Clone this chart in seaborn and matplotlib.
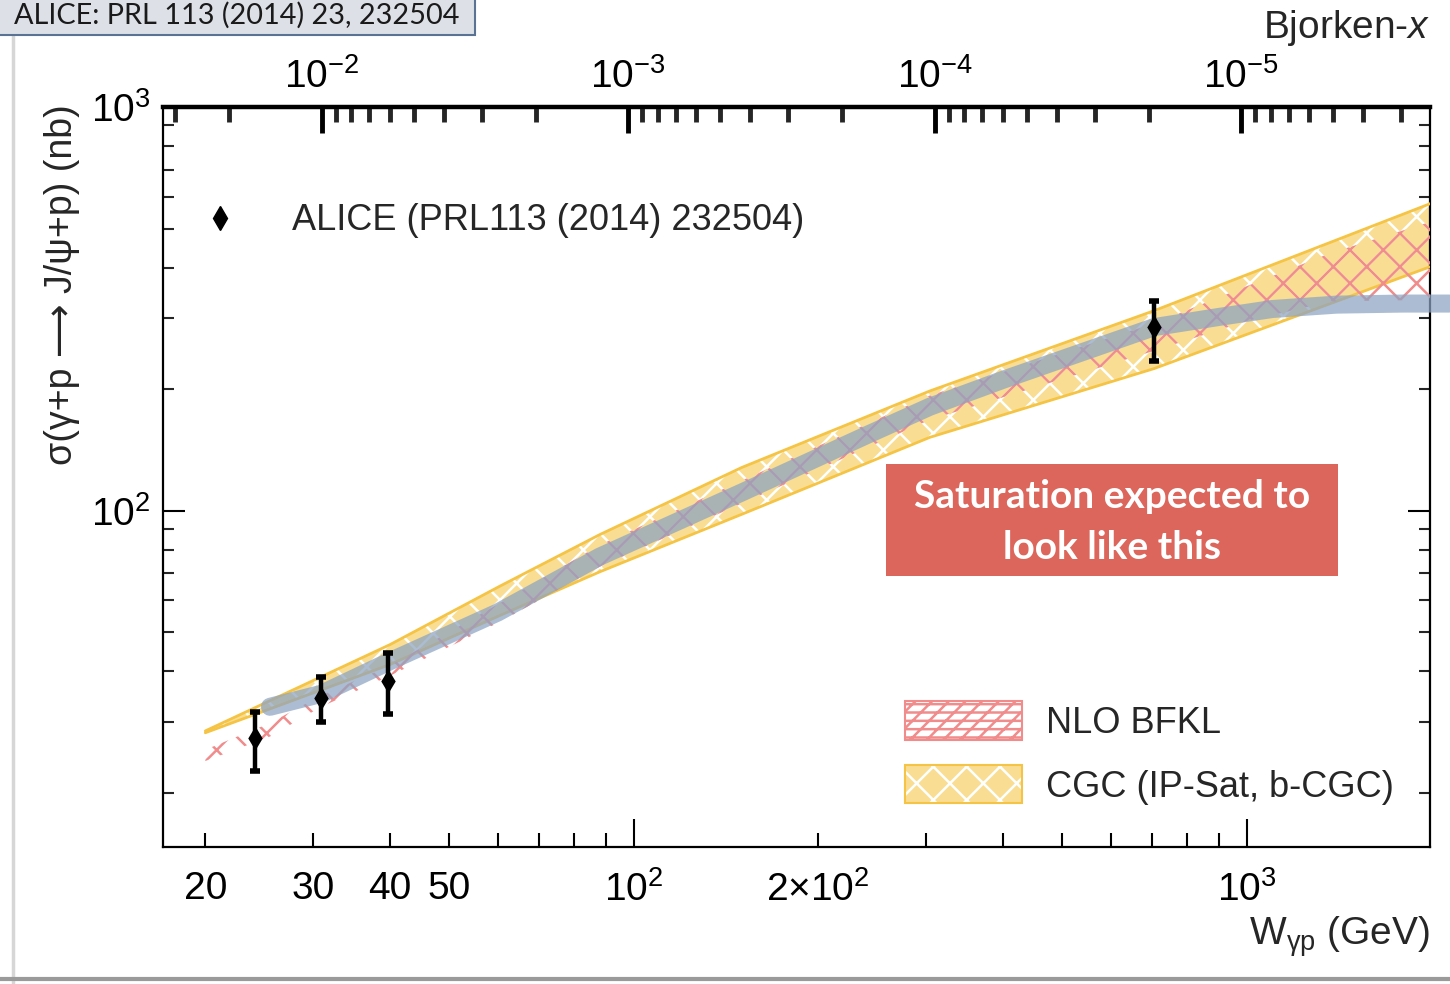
import matplotlib
matplotlib.use('Agg')
import matplotlib.pyplot as plt
import seaborn as sns
from matplotlib.patches import Patch, Rectangle
from matplotlib.lines import Line2D
from matplotlib.ticker import FixedLocator, FixedFormatter, LogLocator, NullFormatter

alice_w = [24.1, 30.9, 39.7, 706.0]
alice_sigma = [27.3, 34.3, 37.9, 285.0]
alice_err_up = [4.5, 4.5, 6.6, 46.0]
alice_err_dn = [4.6, 4.3, 6.5, 50.0]

# CGC (IP-Sat, b-CGC) envelope
cgc_w = [20, 40, 60.4, 88, 150, 304, 706, 1990]
cgc_hi = [28.5, 46.6, 65.0, 87.3, 128, 198, 313, 576]
cgc_lo = [28.2, 41.6, 55.0, 70.6, 98, 152, 225, 402]

# NLO BFKL band
bfkl_w = [20, 25.5, 30.9, 39.7, 60.4, 88, 304, 706, 1000, 1371, 1990]
bfkl_hi = [25.6, 29.8, 34.9, 41.1, 59.0, 82.3, 193, 291, 360, 435, 519]
bfkl_lo = [24.0, 27.6, 32.7, 38.8, 53.0, 72.7, 168, 249, 295, 330, 333]

# hand-drawn "saturation" curve
sat_w = [25.5, 30.9, 40, 60, 88, 150, 240, 304, 400, 706, 900, 1100, 1400, 1800, 2140]
sat_sigma = [32.7, 35.2, 42.4, 56, 77, 111, 154, 181, 211, 285, 302, 316, 324, 326, 326]

x_ticks_major = [100, 1000]
x_labels_major = [r'$10^{2}$', r'$10^{3}$']
x_ticks_minor = [20, 30, 40, 50, 60, 70, 80, 90, 200, 300, 400, 500, 600, 700, 800, 900]
x_labels_minor = ['20', '30', '40', '50', '', '', '', '', r'$2{\times}10^{2}$',
                  '', '', '', '', '', '', '']
y_ticks_major = [100, 1000]
y_labels_major = [r'$10^{2}$', r'$10^{3}$']
y_ticks_minor = [20, 30, 40, 50, 60, 70, 80, 90, 200, 300, 400, 500, 600, 700, 800, 900]
bjx_ticks = [1e-2, 1e-3, 1e-4, 1e-5]
bjx_labels = [r'$10^{-2}$', r'$10^{-3}$', r'$10^{-4}$', r'$10^{-5}$']

MJPSI2 = 9.59
W_MIN, W_MAX = 17.06, 1990
Y_MIN, Y_MAX = 14.7, 1000

YELLOW_FILL = '#F9DD92'
YELLOW_EDGE = '#F5C445'
PINK = '#F08C8C'
SAT_BLUE = '#8CA3C2'

sns.set_theme(style='ticks')
plt.rcParams['font.family'] = ['Liberation Sans', 'DejaVu Sans']
plt.rcParams['mathtext.fontset'] = 'custom'
plt.rcParams['mathtext.rm'] = 'Liberation Sans'
plt.rcParams['mathtext.it'] = 'Liberation Sans:italic'
plt.rcParams['hatch.linewidth'] = 1.8

fig = plt.figure(figsize=(14.5, 9.84), dpi=100)
fig.patch.set_facecolor('white')
ax = fig.add_axes([163 / 1450, 1 - 847 / 984, (1430 - 163) / 1450, (847 - 107) / 984])
ax.set_facecolor('white')

# CGC band: yellow with white cross hatch and orange-yellow edges
ax.fill_between(cgc_w, cgc_lo, cgc_hi, facecolor=YELLOW_FILL, edgecolor='white',
                hatch='x', linewidth=0, zorder=2)
sns.lineplot(x=cgc_w, y=cgc_hi, ax=ax, color=YELLOW_EDGE, lw=2, zorder=3)
sns.lineplot(x=cgc_w, y=cgc_lo, ax=ax, color=YELLOW_EDGE, lw=2, zorder=3)

# NLO BFKL band: pink hatch, no fill
ax.fill_between(bfkl_w, bfkl_lo, bfkl_hi, facecolor='none', edgecolor=PINK,
                hatch='x', linewidth=0, zorder=4)

# saturation curve
sns.lineplot(x=sat_w, y=sat_sigma, ax=ax, color=SAT_BLUE, lw=13, alpha=0.72, zorder=5)
ax.lines[-1].set_clip_on(False)
ax.lines[-1].set_solid_capstyle('round')

# ALICE points
ax.errorbar(alice_w, alice_sigma, yerr=[alice_err_dn, alice_err_up], fmt='none',
            ecolor='black', elinewidth=3.2, capsize=3.5, capthick=4, zorder=9)
sns.scatterplot(x=alice_w, y=alice_sigma, ax=ax, marker='d', s=150, color='black',
                edgecolor='black', linewidth=0, zorder=10)

ax.set_xscale('log')
ax.set_yscale('log')
ax.set_xlim(W_MIN, W_MAX)
ax.set_ylim(Y_MIN, Y_MAX)

ax.xaxis.set_major_locator(FixedLocator(x_ticks_major))
ax.xaxis.set_major_formatter(FixedFormatter(x_labels_major))
ax.xaxis.set_minor_locator(FixedLocator(x_ticks_minor))
ax.xaxis.set_minor_formatter(FixedFormatter(x_labels_minor))
ax.yaxis.set_major_locator(FixedLocator(y_ticks_major))
ax.yaxis.set_major_formatter(FixedFormatter(y_labels_major))
ax.yaxis.set_minor_locator(FixedLocator(y_ticks_minor))
ax.yaxis.set_minor_formatter(NullFormatter())

ax.tick_params(axis='x', which='major', direction='in', length=20, width=1.5,
               labelsize=28, pad=17, colors='black')
ax.tick_params(axis='x', which='minor', direction='in', length=10, width=1.5,
               labelsize=28, pad=17, colors='black')
ax.tick_params(axis='y', which='major', direction='in', length=16, width=1.5,
               labelsize=28, pad=9, left=True, right=True, colors='black')
ax.tick_params(axis='y', which='minor', direction='in', length=8, width=1.5,
               left=True, right=True)
for side in ['left', 'right', 'bottom']:
    ax.spines[side].set_linewidth(1.6)
    ax.spines[side].set_color('black')
ax.spines['top'].set_visible(False)

# Bjorken-x axis on top
axt = ax.twiny()
axt.set_xscale('log')
axt.set_xlim(MJPSI2 / W_MIN ** 2, MJPSI2 / W_MAX ** 2)
axt.xaxis.set_major_locator(FixedLocator(bjx_ticks))
axt.xaxis.set_major_formatter(FixedFormatter(bjx_labels))
axt.xaxis.set_minor_locator(LogLocator(base=10, subs=range(2, 10), numticks=20))
axt.xaxis.set_minor_formatter(NullFormatter())
axt.tick_params(axis='x', which='major', direction='in', length=19, width=3.5,
                labelsize=28, pad=8, colors='black')
axt.tick_params(axis='x', which='minor', direction='in', length=11, width=3.5)
for side in ['left', 'right', 'bottom']:
    axt.spines[side].set_visible(False)
axt.spines['top'].set_linewidth(3.2)
axt.spines['top'].set_color('black')

# legends
leg1 = ax.legend(handles=[Line2D([], [], marker='d', color='black', linestyle='none',
                                 markersize=12)],
                 labels=['ALICE (PRL113 (2014) 232504)'], loc='center left',
                 bbox_to_anchor=((191 - 163) / 1267, (847 - 221) / 740),
                 frameon=False, fontsize=26, handlelength=1.6, handletextpad=1.2,
                 borderpad=0, borderaxespad=0)
ax.add_artist(leg1)

bfkl_handle = Patch(facecolor='white', edgecolor=PINK, hatch='//--', linewidth=1.5)
cgc_handle = (Patch(facecolor=YELLOW_FILL, edgecolor='white', hatch='x', linewidth=0),
              Patch(facecolor='none', edgecolor=YELLOW_EDGE, linewidth=1.5))
ax.legend(handles=[bfkl_handle, cgc_handle], labels=['NLO BFKL', 'CGC (IP-Sat, b-CGC)'],
          loc='center left', bbox_to_anchor=((905 - 163) / 1267, (847 - 753) / 740),
          frameon=False, fontsize=26, handlelength=3.24, handleheight=1.25,
          handletextpad=0.66, labelspacing=0.68, borderpad=0, borderaxespad=0)

# axis titles
fig.text(62 / 1450, 1 - 285 / 984, 'σ(γ+p ⟶ J/ψ+p) (nb)', rotation=90,
         ha='center', va='center', fontsize=27)
fig.text(1430 / 1450, 1 - 937 / 984, r'W$_{\rm γp}$ (GeV)', ha='right', va='center',
         fontsize=28)
fig.text(1430 / 1450, 1 - 28 / 984, r'Bjorken-$x$', ha='right', va='center', fontsize=28)

# red annotation box
fig.add_artist(Rectangle((886 / 1450, 1 - 576 / 984), (1338 - 886) / 1450, (576 - 464) / 984,
                         transform=fig.transFigure, facecolor='#DD665C', edgecolor='none',
                         zorder=20))
fig.text(1112 / 1450, 1 - 522 / 984, 'Saturation expected to\nlook like this',
         ha='center', va='center', color='white', fontweight='bold', fontsize=28,
         family=['Lato', 'DejaVu Sans'], linespacing=1.56, zorder=21)

# citation box at top left
fig.add_artist(Rectangle((-5 / 1450, 1 - 35 / 984), 480 / 1450, 45 / 984,
                         transform=fig.transFigure, facecolor='#DDE1E7', edgecolor='#5A7394',
                         linewidth=1.5, zorder=20))
fig.text(14 / 1450, 1 - 15 / 984, 'ALICE: PRL 113 (2014) 23, 232504', ha='left', va='center',
         fontsize=20.8, family=['Lato', 'DejaVu Sans'], color='#1A1A1A', zorder=21)

# slide frame lines
fig.add_artist(Line2D([13 / 1450, 13 / 1450], [0, 1 - 35 / 984], transform=fig.transFigure,
                      color='#D6D6D6', lw=2.5))
fig.add_artist(Line2D([0, 1], [1 - 979 / 984, 1 - 979 / 984], transform=fig.transFigure,
                      color='#9A9A9A', lw=3))

fig.savefig('out.png', dpi=100, facecolor='white')
